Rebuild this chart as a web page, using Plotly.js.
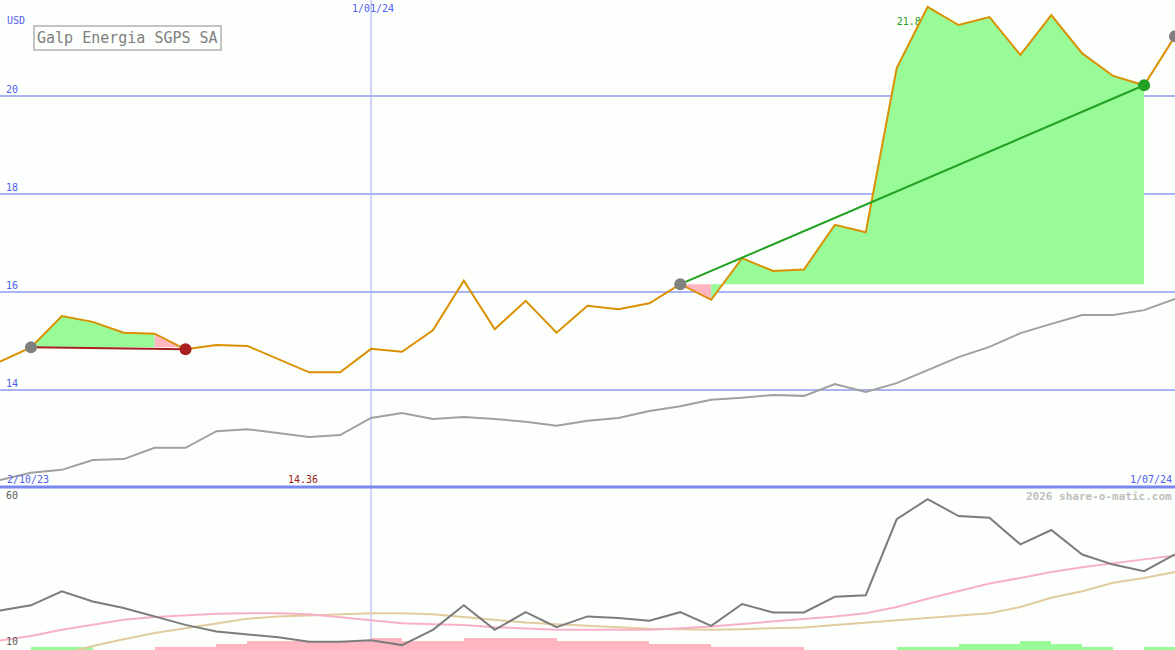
<!DOCTYPE html>
<html>
<head>
<meta charset="utf-8">
<script src="https://cdn.plot.ly/plotly-3.0.1.min.js"></script>
<style>
  html, body { margin: 0; padding: 0; background: #fcfffc; }
  #chart { width: 1175px; height: 650px; }
</style>
</head>
<body>
<div id="chart"></div>
<script>
// ---- data ----
const weeks = ['2023-10-09','2023-10-16','2023-10-23','2023-10-30','2023-11-06','2023-11-13','2023-11-20','2023-11-27',
  '2023-12-04','2023-12-11','2023-12-18','2023-12-25','2024-01-01','2024-01-08','2024-01-15','2024-01-22','2024-01-29',
  '2024-02-05','2024-02-12','2024-02-19','2024-02-26','2024-03-04','2024-03-11','2024-03-18','2024-03-25',
  '2024-04-01','2024-04-08','2024-04-15','2024-04-22','2024-04-29','2024-05-06','2024-05-13','2024-05-20','2024-05-27',
  '2024-06-03','2024-06-10','2024-06-17','2024-06-24','2024-07-01'];

const price = [14.58, 14.87, 15.51, 15.39, 15.17, 15.15, 14.83, 14.92, 14.90, 14.63, 14.36, 14.36, 14.84, 14.78,
  15.22, 16.23, 15.24, 15.82, 15.17, 15.72, 15.65, 15.77, 16.16, 15.84, 16.69, 16.43, 16.46, 17.37, 17.22,
  20.57, 21.82, 21.45, 21.61, 20.84, 21.65, 20.87, 20.41, 20.22, 21.22];

const avgPrice = [12.16, 12.31, 12.37, 12.57, 12.59, 12.82, 12.82, 13.16, 13.20, 13.12, 13.04, 13.08, 13.43, 13.53,
  13.41, 13.45, 13.41, 13.35, 13.27, 13.37, 13.43, 13.57, 13.67, 13.80, 13.84, 13.90, 13.88, 14.12, 13.96,
  14.14, 14.41, 14.67, 14.88, 15.16, 15.35, 15.53, 15.53, 15.63, 15.86];

const oscMain = [22.1, 23.7, 28.0, 24.9, 22.9, 20.3, 17.7, 15.7, 14.9, 13.9, 12.5, 12.5, 13.0, 11.5, 16.2, 23.7,
  16.2, 21.6, 17.0, 20.3, 19.8, 19.0, 21.6, 17.4, 24.1, 21.5, 21.5, 26.3, 26.8, 50.1, 56.3, 51.1, 50.6, 42.4,
  46.8, 39.3, 36.2, 34.2, 39.3];

const oscPink = [12.9, 14.3, 16.2, 17.7, 19.3, 20.1, 20.7, 21.1, 21.3, 21.3, 21.0, 20.0, 19.0, 18.2, 17.9, 17.7,
  17.0, 16.5, 16.2, 16.2, 16.2, 16.2, 16.7, 17.2, 18.0, 18.7, 19.4, 20.3, 21.3, 23.2, 25.7, 28.0, 30.4, 32.1,
  33.9, 35.4, 36.5, 37.8, 39.0];

const oscTan = [null, null, 8.7, 11.2, 13.3, 15.2, 16.7, 18.2, 19.6, 20.3, 20.7, 21.1, 21.3, 21.3, 21.0, 20.1,
  19.3, 18.4, 17.9, 17.5, 16.9, 16.5, 16.4, 16.2, 16.4, 16.7, 16.9, 17.7, 18.4, 19.0, 19.8, 20.5, 21.3, 23.2,
  26.0, 28.0, 30.6, 32.1, 33.9];

// bars: start week index, height above base, sign (+1 green, -1 pink)
const barStart = [1, 2, 5, 6, 7, 8, 9, 10, 11, 12, 13, 14, 15, 16, 17, 18, 19, 20, 21, 22, 23, 24, 25,
  29, 30, 31, 32, 33, 34, 35, 37];
const barHeight = [0.9, 0.9, 0.9, 0.9, 1.85, 2.8, 2.8, 2.8, 2.8, 3.65, 2.8, 2.8, 3.65, 3.65, 3.65, 2.8, 2.8, 2.8,
  1.85, 1.85, 0.9, 0.9, 0.9, 0.9, 0.9, 1.85, 1.85, 2.7, 1.85, 0.9, 0.9];
const barSign = [1, 1, -1, -1, -1, -1, -1, -1, -1, -1, -1, -1, -1, -1, -1, -1, -1, -1, -1, -1, -1, -1, -1,
  1, 1, 1, 1, 1, 1, 1, 1];

const tradeEntry = [1, 22];
const tradeExit = [6, 37];
const tradeColor = ['#a82020', '#22a022'];
const openEntry = [38];

const yTicks = [14, 16, 18, 20];
const yTickLabels = ['14', '16', '18', '20'];
const dateLabels = ['2/10/23', '1/01/24', '1/07/24'];
const oscLabels = ['60', '10'];
const titleText = 'Galp Energia SGPS SA';
const maxLabel = '21.82';
const minLabel = '14.36';

// ---- style ----
const BG = '#fcfffc';
const GREEN_FILL = '#98fb98';
const PINK_FILL = '#ffb6c1';
const MONO = 'DejaVu Sans Mono, Liberation Mono, monospace';
const BLUE_TXT = '#5060f0';

const traces = [];

// max-price label (drawn under the fills)
traces.push({
  x: [weeks[29]], y: [21.51], mode: 'text', text: [maxLabel], textposition: 'middle right',
  textfont: {family: MONO, size: 10, color: '#22a022'}, xaxis: 'x', yaxis: 'y', hoverinfo: 'skip', showlegend: false,
  cliponaxis: false
});

// trade fills
for (let t = 0; t < tradeEntry.length; t++) {
  const a = tradeEntry[t], b = tradeExit[t], level = price[a];
  let segStart = a;
  let curUp = price[a + 1] > level;
  for (let i = a; i < b; i++) {
    const up = price[i + 1] > level;
    const last = (i + 1 === b);
    const nextUp = last ? null : (price[i + 2] > level);
    if (last || nextUp !== up) {
      const xs = [weeks[segStart]], ys = [level];
      for (let k = segStart; k <= i + 1; k++) { xs.push(weeks[k]); ys.push(price[k]); }
      xs.push(weeks[i + 1]); ys.push(level);
      traces.push({x: xs, y: ys, mode: 'lines', fill: 'toself', fillcolor: up ? GREEN_FILL : PINK_FILL,
        line: {width: 0}, xaxis: 'x', yaxis: 'y', hoverinfo: 'skip', showlegend: false});
      segStart = i + 1;
    }
  }
}

// average line
traces.push({x: weeks, y: avgPrice, mode: 'lines', line: {color: '#a0a0a0', width: 2}, xaxis: 'x', yaxis: 'y',
  showlegend: false});
// price line
traces.push({x: weeks, y: price, mode: 'lines', line: {color: '#da9000', width: 2}, xaxis: 'x', yaxis: 'y',
  showlegend: false});

// trade lines and markers
for (let t = 0; t < tradeEntry.length; t++) {
  const a = tradeEntry[t], b = tradeExit[t];
  traces.push({x: [weeks[a], weeks[b]], y: [price[a], price[b]], mode: 'lines',
    line: {color: tradeColor[t], width: 2}, xaxis: 'x', yaxis: 'y', showlegend: false});
}
for (let t = 0; t < tradeEntry.length; t++) {
  const a = tradeEntry[t], b = tradeExit[t];
  traces.push({x: [weeks[a]], y: [price[a]], mode: 'markers', marker: {color: '#808080', size: 12},
    xaxis: 'x', yaxis: 'y', showlegend: false, cliponaxis: false});
  traces.push({x: [weeks[b]], y: [price[b]], mode: 'markers', marker: {color: tradeColor[t], size: 12},
    xaxis: 'x', yaxis: 'y', showlegend: false, cliponaxis: false});
}
traces.push({x: openEntry.map(i => weeks[i]), y: openEntry.map(i => price[i]), mode: 'markers',
  marker: {color: '#808080', size: 12}, xaxis: 'x', yaxis: 'y', showlegend: false, cliponaxis: false});

// oscillator bars
const WEEK_MS = 7 * 24 * 3600 * 1000;
traces.push({
  type: 'bar', x: barStart.map(i => weeks[i]), y: barHeight, base: 10, width: WEEK_MS, offset: 0,
  marker: {color: barSign.map(s => s > 0 ? GREEN_FILL : PINK_FILL), line: {width: 0}},
  xaxis: 'x2', yaxis: 'y2', showlegend: false
});
traces.push({x: weeks, y: oscTan, mode: 'lines', line: {color: '#e0cc9e', width: 2}, xaxis: 'x2', yaxis: 'y2', showlegend: false});
traces.push({x: weeks, y: oscPink, mode: 'lines', line: {color: '#f8b0c8', width: 2}, xaxis: 'x2', yaxis: 'y2', showlegend: false});
traces.push({x: weeks, y: oscMain, mode: 'lines', line: {color: '#7c7c7c', width: 2}, xaxis: 'x2', yaxis: 'y2', showlegend: false});

const W = 1175, H = 650;
const py = px => 1 - px / H;
const pxx = px => px / W;
const splitY = py(487);

const annotations = [];
// y tick labels
yTicks.forEach((v, k) => annotations.push({
  xref: 'paper', yref: 'y', x: pxx(5), y: v, xanchor: 'left', yanchor: 'bottom', yshift: 0,
  text: yTickLabels[k], showarrow: false, borderpad: 0, font: {family: MONO, size: 10, color: BLUE_TXT}
}));
annotations.push({xref: 'paper', yref: 'paper', x: pxx(6), y: py(14), xanchor: 'left', yanchor: 'top',
  text: 'USD', showarrow: false, borderpad: 0, font: {family: MONO, size: 10, color: BLUE_TXT}});
annotations.push({xref: 'paper', yref: 'paper', x: pxx(33), y: py(25), xanchor: 'left', yanchor: 'top',
  text: titleText, showarrow: false, bordercolor: '#c4c4c4', borderwidth: 2, borderpad: 2, bgcolor: BG,
  font: {family: MONO, size: 15, color: '#808080'}});
annotations.push({xref: 'x', yref: 'paper', x: weeks[12], y: py(2), xanchor: 'center', yanchor: 'top', xshift: 2,
  text: dateLabels[1], showarrow: false, borderpad: 0, font: {family: MONO, size: 10, color: BLUE_TXT}});
annotations.push({xref: 'paper', yref: 'paper', x: pxx(6), y: py(486), xanchor: 'left', yanchor: 'bottom',
  text: dateLabels[0], showarrow: false, borderpad: 0, font: {family: MONO, size: 10, color: BLUE_TXT}});
annotations.push({xref: 'paper', yref: 'paper', x: pxx(1173), y: py(486), xanchor: 'right', yanchor: 'bottom',
  text: dateLabels[2], showarrow: false, borderpad: 0, font: {family: MONO, size: 10, color: BLUE_TXT}});
annotations.push({xref: 'x', yref: 'paper', x: weeks[10], y: py(486), xanchor: 'center', yanchor: 'bottom', xshift: -6,
  text: minLabel, showarrow: false, borderpad: 0, font: {family: MONO, size: 10, color: '#a02020'}});
annotations.push({xref: 'paper', yref: 'paper', x: pxx(1173), y: py(489), xanchor: 'right', yanchor: 'top',
  text: '<b>2026 share-o-matic.com</b>', showarrow: false, borderpad: 0, font: {family: MONO, size: 11, color: '#c0c0c0'}});
annotations.push({xref: 'paper', yref: 'paper', x: pxx(5), y: py(489), xanchor: 'left', yanchor: 'top',
  text: oscLabels[0], showarrow: false, borderpad: 0, font: {family: MONO, size: 10, color: '#606060'}});
annotations.push({xref: 'paper', yref: 'paper', x: pxx(5), y: py(648), xanchor: 'left', yanchor: 'bottom',
  text: oscLabels[1], showarrow: false, borderpad: 0, font: {family: MONO, size: 10, color: '#606060'}});

const layout = {
  width: W, height: H,
  margin: {l: 0, r: 0, t: 0, b: 0, pad: 0},
  paper_bgcolor: BG, plot_bgcolor: BG,
  showlegend: false,
  bargap: 0,
  xaxis: {type: 'date', range: [weeks[0], weeks[38]], domain: [0, 1], showgrid: false, zeroline: false,
    showticklabels: false, ticks: '', anchor: 'y'},
  yaxis: {range: [12.02, 21.96], domain: [splitY, 1], tickvals: yTicks, showticklabels: false, ticks: '',
    gridcolor: '#a8b4f4', gridwidth: 2, zeroline: false, anchor: 'x'},
  xaxis2: {type: 'date', range: [weeks[0], weeks[38]], domain: [0, 1], showgrid: false, zeroline: false,
    showticklabels: false, ticks: '', anchor: 'y2', matches: 'x'},
  yaxis2: {range: [10, 60], domain: [0, splitY], showgrid: false, showticklabels: false, ticks: '',
    zeroline: false, anchor: 'x2'},
  shapes: [
    {type: 'line', xref: 'x', yref: 'paper', x0: weeks[12], x1: weeks[12], y0: 0, y1: 1,
      line: {color: '#a0acf8', width: 1}, layer: 'below'},
    {type: 'line', xref: 'paper', yref: 'paper', x0: 0, x1: 1, y0: splitY, y1: splitY,
      line: {color: '#7888ee', width: 3}, layer: 'below'}
  ],
  annotations: annotations
};

Plotly.newPlot('chart', traces, layout, {staticPlot: true, displayModeBar: false});
</script>
</body>
</html>
